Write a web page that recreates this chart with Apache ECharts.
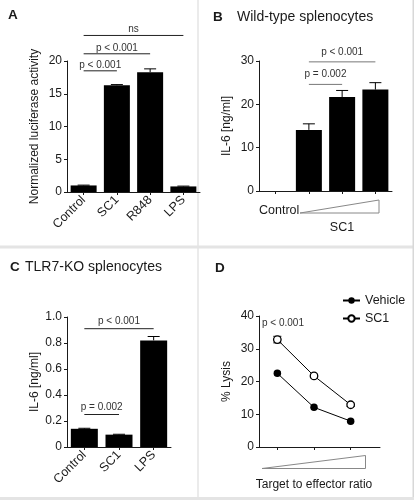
<!DOCTYPE html>
<html><head><meta charset="utf-8">
<script src="https://cdn.jsdelivr.net/npm/echarts@6/dist/echarts.min.js"></script>
<style>html,body{margin:0;padding:0;background:#fff}#c{width:414px;height:500px}</style>
</head><body><div id="c"></div>
<script>
// ---- Panel A: luciferase ----
const catsA = ['Control', 'SC1', 'R848', 'LPS'];
const valsA = [1.0, 16.3, 18.3, 0.85];
const errA = [0.05, 0.1, 0.5, 0.05];
const sigA = [[0, 3, 23.9, 'ns'], [0, 2, 21.1, 'p < 0.001'], [0, 1, 18.5, 'p < 0.001']];
// ---- Panel B: wild-type splenocytes ----
const catsB = ['Control', 'SC1 low', 'SC1 mid', 'SC1 high'];
const valsB = [0, 14.1, 21.7, 23.4];
const errB = [0, 1.4, 1.5, 1.6];
const sigB = [[1, 3, 29.8, 'p < 0.001'], [1, 2, 24.6, 'p = 0.002']];
// ---- Panel C: TLR7-KO splenocytes ----
const catsC = ['Control', 'SC1', 'LPS'];
const valsC = [0.14, 0.095, 0.82];
const errC = [0.004, 0.003, 0.03];
const sigC = [[0, 2, 0.91, 'p < 0.001'], [0, 1, 0.25, 'p = 0.002']];
// ---- Panel D: lysis ----
const ratioD = [1, 2, 3];
const vehicleD = [22.5, 12.1, 7.9];
const vehicleErrD = [0.5, 0.5, 0.4];
const sc1D = [32.8, 21.7, 12.9];
const sc1ErrD = [1.0, 0.5, 0.5];

const FONT = 'Liberation Sans, Arial, sans-serif';
const INK = '#1a1a1a';

function yAxisCfg(idx, min, max, interval, name, fmt) {
  return {
    type: 'value', gridIndex: idx, min: min, max: max, interval: interval,
    name: name, nameLocation: 'middle', nameGap: 26,
    nameTextStyle: { color: INK, fontSize: 12, fontFamily: FONT },
    axisLine: { show: true, lineStyle: { color: INK, width: 1 } },
    axisTick: { show: true, length: 3, lineStyle: { color: INK } },
    axisLabel: { color: INK, fontSize: 12, fontFamily: FONT, margin: 5, formatter: fmt },
    splitLine: { show: false }
  };
}
function xCatCfg(idx, cats, showLabels) {
  return {
    type: 'category', gridIndex: idx, data: cats,
    axisLine: { lineStyle: { color: INK, width: 1 } },
    axisTick: { show: true, alignWithLabel: true, length: 3, lineStyle: { color: INK } },
    axisLabel: { show: showLabels, rotate: 45, color: INK, fontSize: 12.5, fontFamily: FONT, margin: 6, interval: 0 },
    splitLine: { show: false }
  };
}
function barSeries(idx, vals, width) {
  return { type: 'bar', xAxisIndex: idx, yAxisIndex: idx, data: vals, barWidth: width,
    itemStyle: { color: '#000' }, silent: true, animation: false };
}
function errSeries(idx, vals, errs, half) {
  return {
    type: 'custom', xAxisIndex: idx, yAxisIndex: idx, animation: false, silent: true, z: 1,
    data: vals.map((v, i) => [i, v, errs[i]]),
    renderItem: function (params, api) {
      const e = api.value(2);
      if (!e) return null;
      const b = api.coord([api.value(0), api.value(1)]);
      const t = api.coord([api.value(0), api.value(1) + e]);
      return { type: 'group', children: [
        { type: 'line', shape: { x1: b[0], y1: b[1], x2: t[0], y2: t[1] }, style: { stroke: '#000', lineWidth: 1 } },
        { type: 'line', shape: { x1: t[0] - half, y1: t[1], x2: t[0] + half, y2: t[1] }, style: { stroke: '#000', lineWidth: 1 } }
      ] };
    }
  };
}
function sigSeries(idx, sig, lineColor, textGap) {
  return {
    type: 'custom', xAxisIndex: idx, yAxisIndex: idx, animation: false, silent: true, clip: false,
    data: sig.map(s => [s[0], s[2]]),
    renderItem: function (params, api) {
      const s = sig[params.dataIndex];
      const p1 = api.coord([s[0], s[2]]);
      const p2 = api.coord([s[1], s[2]]);
      return { type: 'group', children: [
        { type: 'line', shape: { x1: p1[0], y1: p1[1], x2: p2[0], y2: p2[1] }, style: { stroke: lineColor, lineWidth: 1 } },
        { type: 'text', style: { x: (p1[0] + p2[0]) / 2, y: p1[1] - textGap, text: s[3], fill: '#333',
          fontSize: 10, fontFamily: FONT, align: 'center', verticalAlign: 'middle' } }
      ] };
    }
  };
}
function dErrSeries(vals, errs, half) {
  return {
    type: 'custom', xAxisIndex: 3, yAxisIndex: 3, animation: false, silent: true, z: 1,
    data: vals.map((v, i) => [ratioD[i], v, errs[i]]),
    renderItem: function (params, api) {
      const x = api.value(0), v = api.value(1), e = api.value(2);
      const lo = api.coord([x, v - e]), hi = api.coord([x, v + e]);
      return { type: 'group', children: [
        { type: 'line', shape: { x1: lo[0], y1: lo[1], x2: hi[0], y2: hi[1] }, style: { stroke: '#000', lineWidth: 1 } },
        { type: 'line', shape: { x1: hi[0] - half, y1: hi[1], x2: hi[0] + half, y2: hi[1] }, style: { stroke: '#000', lineWidth: 1 } },
        { type: 'line', shape: { x1: lo[0] - half, y1: lo[1], x2: lo[0] + half, y2: lo[1] }, style: { stroke: '#000', lineWidth: 1 } }
      ] };
    }
  };
}

const tx = (x, y, text, size, opts) => Object.assign({ type: 'text', x: x, y: y, silent: true,
  style: Object.assign({ text: text, fill: INK, fontSize: size, fontFamily: FONT, verticalAlign: 'middle' }, opts || {}) });

const option = {
  animation: false,
  backgroundColor: '#fff',
  grid: [
    { left: 67, top: 61, width: 133, height: 131 },
    { left: 259, top: 61, width: 133, height: 130 },
    { left: 67, top: 317, width: 104, height: 130 },
    { left: 259, top: 316, width: 121, height: 131 }
  ],
  xAxis: [
    xCatCfg(0, catsA, true),
    xCatCfg(1, catsB, false),
    xCatCfg(2, catsC, true),
    { type: 'value', gridIndex: 3, min: 0.5, max: 3.8,
      axisLine: { show: true, onZero: false, lineStyle: { color: INK, width: 1 } },
      axisTick: { show: true, length: 3, customValues: ratioD, lineStyle: { color: INK } },
      axisLabel: { show: false }, splitLine: { show: false } }
  ],
  yAxis: [
    yAxisCfg(0, 0, 20, 5, 'Normalized luciferase activity'),
    yAxisCfg(1, 0, 30, 10, 'IL-6 [ng/ml]'),
    yAxisCfg(2, 0, 1, 0.2, 'IL-6 [ng/ml]', v => v === 0 ? '0' : v.toFixed(1)),
    yAxisCfg(3, 0, 40, 10, '% Lysis')
  ],
  legend: {
    data: ['Vehicle', 'SC1'], orient: 'vertical', left: 342, top: 294, padding: 0,
    itemWidth: 17, itemHeight: 8, itemGap: 5,
    textStyle: { color: INK, fontSize: 12.5, fontFamily: FONT }
  },
  series: [
    barSeries(0, valsA, 26), errSeries(0, valsA, errA, 6), sigSeries(0, sigA, '#222', 6),
    barSeries(1, valsB, 26), errSeries(1, valsB, errB, 6), sigSeries(1, sigB, '#777', 10),
    barSeries(2, valsC, 27), errSeries(2, valsC, errC, 6), sigSeries(2, sigC, '#222', 7.5),
    dErrSeries(sc1D, sc1ErrD, 4), dErrSeries(vehicleD, vehicleErrD, 3),
    { name: 'Vehicle', type: 'line', xAxisIndex: 3, yAxisIndex: 3, z: 3,
      data: ratioD.map((x, i) => [x, vehicleD[i]]), symbol: 'circle', symbolSize: 7.5,
      itemStyle: { color: '#000' }, lineStyle: { color: '#000', width: 1 } },
    { name: 'SC1', type: 'line', xAxisIndex: 3, yAxisIndex: 3, z: 3,
      data: ratioD.map((x, i) => [x, sc1D[i]]), symbol: 'circle', symbolSize: 7.5,
      itemStyle: { color: '#fff', borderColor: '#000', borderWidth: 1.3 }, lineStyle: { color: '#000', width: 1 } }
  ],
  graphic: [
    // panel separators
    { type: 'rect', silent: true, shape: { x: 197.5, y: 0, width: 1, height: 500 }, style: { fill: '#d8d8d8' } },
    { type: 'rect', silent: true, shape: { x: 0, y: 245.5, width: 414, height: 3 }, style: { fill: '#e4e4e4' } },
    { type: 'rect', silent: true, shape: { x: 412.5, y: 0, width: 1.5, height: 500 }, style: { fill: '#d8d8d8' } },
    { type: 'rect', silent: true, shape: { x: 0, y: 497, width: 414, height: 3 }, style: { fill: '#e4e4e4' } },
    // panel letters and titles
    tx(8, 15, 'A', 13.5, { fontWeight: 'bold' }),
    tx(213, 17, 'B', 13.5, { fontWeight: 'bold' }),
    tx(237, 17, 'Wild-type splenocytes', 14),
    tx(10, 267, 'C', 13.5, { fontWeight: 'bold' }),
    tx(25, 267, 'TLR7-KO splenocytes', 14),
    tx(215, 268, 'D', 13.5, { fontWeight: 'bold' }),
    // panel B x annotation
    tx(259, 211, 'Control', 12.5),
    { type: 'polygon', silent: true, shape: { points: [[300, 213], [379, 200], [379, 213]] }, style: { fill: 'none', stroke: '#888', lineWidth: 1 } },
    tx(342, 228, 'SC1', 12.5, { align: 'center' }),
    // panel D annotations
    tx(262, 323, 'p < 0.001', 10, { fill: '#333' }),
    { type: 'polygon', silent: true, shape: { points: [[262, 468.5], [365.5, 455.5], [365.5, 468.5]] }, style: { fill: 'none', stroke: '#888', lineWidth: 1 } },
    tx(314, 485, 'Target to effector ratio', 12, { align: 'center' })
  ]
};
const chart = echarts.init(document.getElementById('c'), null, { renderer: 'canvas' });
chart.setOption(option);
</script></body></html>
